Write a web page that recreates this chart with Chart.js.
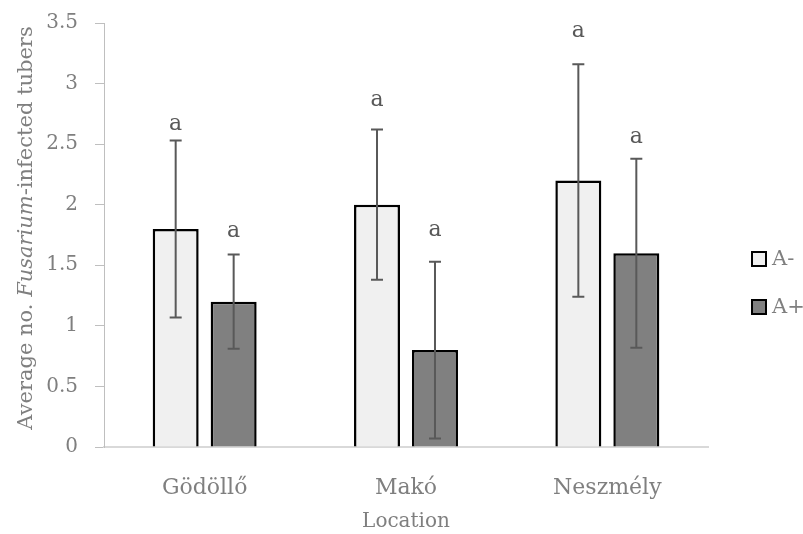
<!DOCTYPE html>
<html>
<head>
<meta charset="utf-8">
<script src="https://cdn.jsdelivr.net/npm/chart.js@4.4.0/dist/chart.umd.min.js"></script>
<style>
  body { margin: 0; background: #fff; }
  #wrap { width: 803px; height: 534px; }
</style>
</head>
<body>
<div id="wrap"><canvas id="myChart"></canvas></div>
<script>
const locations = ["Gödöllő", "Makó", "Neszmély"];
const seriesNames = ["A-", "A+"];
const aMinus = [1.8, 2.0, 2.2];
const aPlus = [1.2, 0.8, 1.6];
const errMinus = [0.73, 0.62, 0.96];
const errPlus = [0.39, 0.73, 0.78];
const lettersMinus = ["a", "a", "a"];
const lettersPlus = ["a", "a", "a"];
// where the letters sit, in axis units
const letterYMinus = [2.66, 2.86, 3.43];
const letterYPlus = [1.78, 1.79, 2.56];
const yTicks = [0, 0.5, 1, 1.5, 2, 2.5, 3, 3.5];

const FONT = "'DejaVu Serif', serif";
const grey = "#7f7f7f";

const extras = {
  id: "extras",
  afterDatasetsDraw(chart) {
    const ctx = chart.ctx;
    const y = chart.scales.y;
    const sets = [
      { err: errMinus, letters: lettersMinus, ly: letterYMinus },
      { err: errPlus, letters: lettersPlus, ly: letterYPlus }
    ];
    sets.forEach((s, di) => {
      const meta = chart.getDatasetMeta(di);
      const vals = chart.data.datasets[di].data;
      meta.data.forEach((bar, i) => {
        const x = bar.x;
        const top = y.getPixelForValue(vals[i] + s.err[i]);
        const bot = y.getPixelForValue(vals[i] - s.err[i]);
        ctx.save();
        ctx.strokeStyle = "#595959";
        ctx.lineWidth = 2;
        ctx.beginPath();
        ctx.moveTo(x, top); ctx.lineTo(x, bot);
        ctx.moveTo(x - 6, top); ctx.lineTo(x + 6, top);
        ctx.moveTo(x - 6, bot); ctx.lineTo(x + 6, bot);
        ctx.stroke();
        ctx.fillStyle = "#595959";
        ctx.font = "22px " + FONT;
        ctx.textAlign = "center";
        ctx.textBaseline = "middle";
        ctx.fillText(s.letters[i], x, y.getPixelForValue(s.ly[i]));
        ctx.restore();
      });
    });
  },
  afterDraw(chart) {
    const ctx = chart.ctx;
    // y axis title with italic genus name
    const parts = [
      ["Average no. ", "normal"],
      ["Fusarium", "italic"],
      ["-infected tubers", "normal"]
    ];
    ctx.save();
    let total = 0;
    parts.forEach(p => {
      ctx.font = p[1] + " 21px " + FONT;
      total += ctx.measureText(p[0]).width;
    });
    ctx.translate(27, 228);
    ctx.rotate(-Math.PI / 2);
    ctx.fillStyle = grey;
    ctx.textBaseline = "middle";
    let cx = -total / 2;
    parts.forEach(p => {
      ctx.font = p[1] + " 21px " + FONT;
      ctx.fillText(p[0], cx, 0);
      cx += ctx.measureText(p[0]).width;
    });
    ctx.restore();

    // legend
    ctx.save();
    chart.data.datasets.forEach((ds, i) => {
      const cy = 259 + i * 48;
      ctx.fillStyle = ds.backgroundColor;
      ctx.fillRect(752, cy - 7, 14, 14);
      ctx.strokeStyle = "#000";
      ctx.lineWidth = 2;
      ctx.strokeRect(752, cy - 7, 14, 14);
      ctx.fillStyle = grey;
      ctx.font = "21px " + FONT;
      ctx.textBaseline = "middle";
      ctx.fillText(ds.label, 772, cy + 1);
    });
    ctx.restore();
  }
};

new Chart("myChart", {
  type: "bar",
  data: {
    labels: locations,
    datasets: [
      {
        label: seriesNames[0],
        data: aMinus,
        backgroundColor: "#f0f0f0",
        borderColor: "#000",
        borderWidth: 2.5,
        categoryPercentage: 0.576,
        barPercentage: 0.793
      },
      {
        label: seriesNames[1],
        data: aPlus,
        backgroundColor: "#808080",
        borderColor: "#000",
        borderWidth: 2.5,
        categoryPercentage: 0.576,
        barPercentage: 0.793
      }
    ]
  },
  options: {
    responsive: true,
    maintainAspectRatio: false,
    animation: false,
    layout: { padding: { top: 23, right: 95, left: 0, bottom: 0 } },
    plugins: {
      legend: { display: false },
      tooltip: { enabled: false }
    },
    scales: {
      x: {
        grid: { display: false },
        border: { color: "#d9d9d9", width: 2 },
        ticks: { color: grey, font: { family: FONT, size: 22 }, padding: 20 },
        title: {
          display: true,
          text: "Location",
          color: grey,
          font: { family: FONT, size: 20 },
          padding: { top: 0, bottom: 0 }
        },
        afterFit(s) { s.height = 87; s.paddingTop = 0; s.paddingBottom = 0; }
      },
      y: {
        min: 0,
        max: 3.5,
        afterBuildTicks(s) { s.ticks = yTicks.map(v => ({ value: v })); },
        grid: { drawOnChartArea: false, color: "#bfbfbf", tickLength: 9 },
        border: { color: "#bfbfbf", width: 1 },
        ticks: {
          color: grey,
          font: { family: FONT, size: 20 },
          padding: 17,
          callback: v => String(v)
        },
        afterFit(s) { s.width = 104; s.paddingTop = 0; s.paddingBottom = 0; }
      }
    }
  },
  plugins: [extras]
});
</script>
</body>
</html>
